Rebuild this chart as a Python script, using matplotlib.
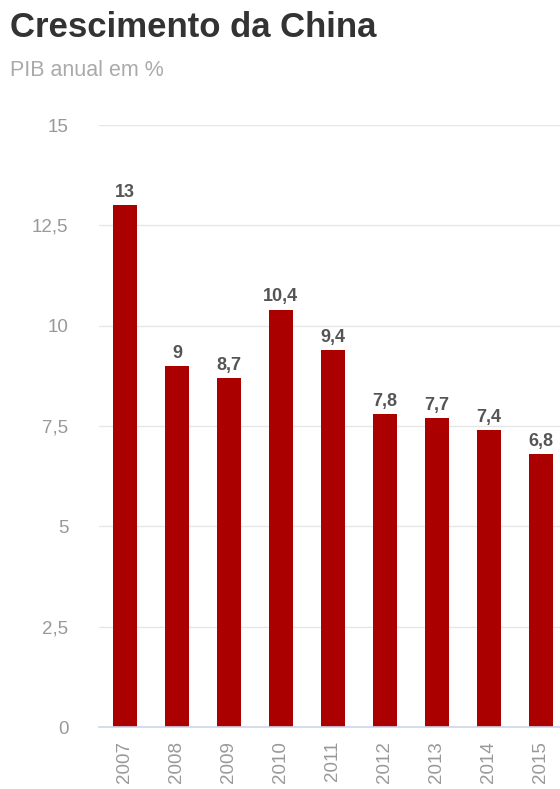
import matplotlib.pyplot as plt
import numpy as np

plt.rcParams['font.family'] = ['Liberation Sans', 'DejaVu Sans']

# growth data
years = ['2007', '2008', '2009', '2010', '2011', '2012', '2013', '2014', '2015']
gdp = [13, 9, 8.7, 10.4, 9.4, 7.8, 7.7, 7.4, 6.8]
yticks = [0, 2.5, 5, 7.5, 10, 12.5, 15]
ytick_labels = ['0', '2,5', '5', '7,5', '10', '12,5', '15']

W, H = 560, 789
fig = plt.figure(figsize=(W / 100, H / 100), dpi=100)
ax = fig.add_axes([99 / W, 1 - 727 / H, 1 - 99 / W, (727 - 125) / H])

x = np.arange(len(years))
ax.bar(x, gdp, width=0.46, color='#aa0000', zorder=3)

for xi, v in zip(x, gdp):
    ax.annotate(('%g' % v).replace('.', ','), (xi, v), xytext=(0, 3),
                textcoords='offset points', ha='center', va='bottom',
                fontsize=13, fontweight='bold', color='#555555')

ax.set_xlim(-0.5, 8.37)
ax.set_ylim(0, 15)
ax.set_yticks(yticks)
ax.set_yticklabels(ytick_labels)
ax.set_xticks(x)
ax.set_xticklabels(years, rotation=90)
ax.tick_params(axis='y', length=0, pad=22, labelsize=13.5, labelcolor='#999999')
ax.tick_params(axis='x', length=0, pad=10, labelsize=13.5, labelcolor='#999999')
ax.grid(axis='y', color='#e6e6e6', linewidth=1, zorder=0)
for s in ['top', 'right', 'left']:
    ax.spines[s].set_visible(False)
ax.spines['bottom'].set_color('#ccd6eb')
ax.spines['bottom'].set_linewidth(1.2)
ax.spines['bottom'].set_zorder(4)

fig.text(10 / W, 1 - 37 / H, 'Crescimento da China', fontsize=25,
         fontweight='bold', color='#333333', va='baseline')
fig.text(10 / W, 1 - 76 / H, 'PIB anual em %', fontsize=15.5,
         color='#aaaaaa', va='baseline')

fig.savefig('out.png', dpi=100)
